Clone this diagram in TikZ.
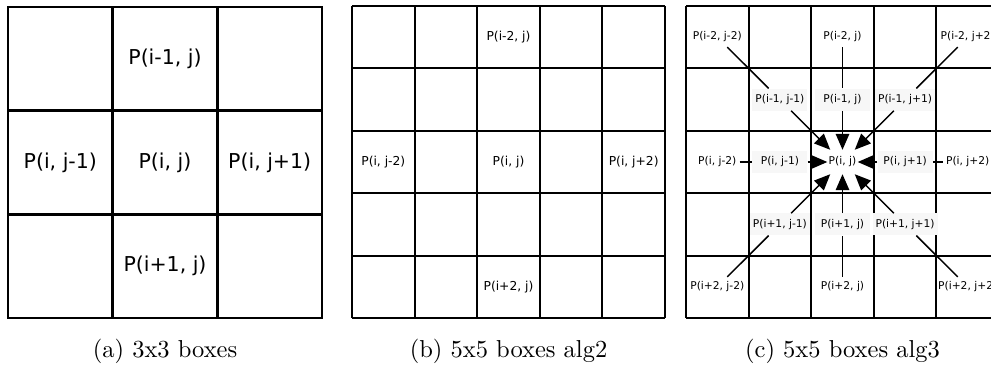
\documentclass[tikz,border=0pt]{standalone}
\usepackage{fontspec}
\usepackage{graphicx}
\newfontfamily\dv{DejaVu Sans}
\usetikzlibrary{arrows.meta}
\begin{document}
\begin{tikzpicture}[x=1pt,y=-1pt,
  biglbl/.style={font=\dv\fontsize{20.5}{24}\selectfont, inner sep=0pt},
  midlbl/.style={font=\dv\fontsize{12.3}{15}\selectfont, inner sep=0pt},
  smlbl/.style={font=\dv\fontsize{10.7}{13}\selectfont, inner xsep=3pt, inner ysep=4.5pt, text height=8pt, text depth=2.5pt},
  innerbox/.style={smlbl, fill=black!3, minimum width=55pt, minimum height=22pt},
  ctr/.style={smlbl, minimum width=30pt, minimum height=24pt, inner sep=0pt},
  conn/.style={line width=1.5pt},
  arr/.style={conn, -{Triangle[length=16pt,width=13.5pt]}},
  gridA/.style={line width=2.6pt},
  gridB/.style={line width=2pt},
  captext/.style={anchor=base, font=\rmfamily}
]
\useasboundingbox (0,0) rectangle (991,365);
\clip (0,0) rectangle (991,365);

% ---------- panel (a) ----------
\foreach \x in {8,112.67,217.33,322} \draw[gridA] (\x,7) -- (\x,318);
\foreach \y in {7,110.67,214.33,318} \draw[gridA] (8,\y) -- (322,\y);
\draw[gridA] (8,7) rectangle (322,318);
\node[biglbl] (a12) at (165,58.8) {P(i-1, j)};
\node[biglbl] (a21) at (60.3,162.5) {P(i, j-1)};
\node[biglbl] (a22) at (165,162.5) {P(i, j)};
\node[biglbl] (a23) at (269.7,162.5) {P(i, j+1)};
\node[biglbl] (a32) at (165,266.2) {P(i+1, j)};
\node[captext] (capa) at (165,357) {\scalebox{2.45}{(a) 3x3 boxes}};

% ---------- panel (b) ----------
\foreach \i in {0,...,5} {
  \draw[gridB] ({352+62.6*\i},6) -- ({352+62.6*\i},318);
  \draw[gridB] (352,{6+62.4*\i}) -- (665,{6+62.4*\i});
}
\node[midlbl] (b13) at (508.5,37.2) {P(i-2, j)};
\node[midlbl] (b31) at (383.3,162) {P(i, j-2)};
\node[midlbl] (b33) at (508.5,162) {P(i, j)};
\node[midlbl] (b35) at (633.7,162) {P(i, j+2)};
\node[midlbl] (b53) at (508.5,286.8) {P(i+2, j)};
\node[captext] (capb) at (508.5,357) {\scalebox{2.45}{(b) 5x5 boxes alg2}};

% ---------- panel (c) ----------
\foreach \i in {0,...,5} {
  \draw[gridB] ({686+62.6*\i},6) -- ({686+62.6*\i},318);
  \draw[gridB] (686,{6+62.4*\i}) -- (999,{6+62.4*\i});
}
\node[smlbl] (c11) at (717.3,37.2) {P(i-2, j-2)};
\node[smlbl] (c13) at (842.5,37.2) {P(i-2, j)};
\node[smlbl] (c15) at (967.7,37.2) {P(i-2, j+2)};
\node[innerbox] (c22) at (779.9,99.6) {P(i-1, j-1)};
\node[innerbox] (c23) at (842.5,99.6) {P(i-1, j)};
\node[innerbox] (c24) at (905.1,99.6) {P(i-1, j+1)};
\node[smlbl] (c31) at (717.3,162) {P(i, j-2)};
\node[innerbox] (c32) at (779.9,162) {P(i, j-1)};
\node[ctr] (c33) at (842.5,162) {P(i, j)};
\node[innerbox] (c34) at (905.1,162) {P(i, j+1)};
\node[smlbl] (c35) at (967.7,162) {P(i, j+2)};
\node[innerbox] (c42) at (779.9,224.4) {P(i+1, j-1)};
\node[innerbox] (c43) at (842.5,224.4) {P(i+1, j)};
\node[innerbox] (c44) at (905.1,224.4) {P(i+1, j+1)};
\node[smlbl] (c51) at (717.3,286.8) {P(i+2, j-2)};
\node[smlbl] (c53) at (842.5,286.8) {P(i+2, j)};
\node[smlbl] (c55) at (967.7,286.8) {P(i+2, j+2)};

\draw[conn] (c11) -- (c22);
\draw[conn] (c13) -- (c23);
\draw[conn] (c15) -- (c24);
\draw[conn] (c31) -- (c32);
\draw[conn] (c35) -- (c34);
\draw[conn] (c51) -- (c42);
\draw[conn] (c53) -- (c43);
\draw[conn] (c55) -- (c44);

\foreach \n in {c22,c23,c24,c32,c34,c42,c43,c44}
  \draw[arr] (\n) -- (c33);

\node[captext] (capc) at (842.5,357) {\scalebox{2.45}{(c) 5x5 boxes alg3}};
\end{tikzpicture}
\end{document}
